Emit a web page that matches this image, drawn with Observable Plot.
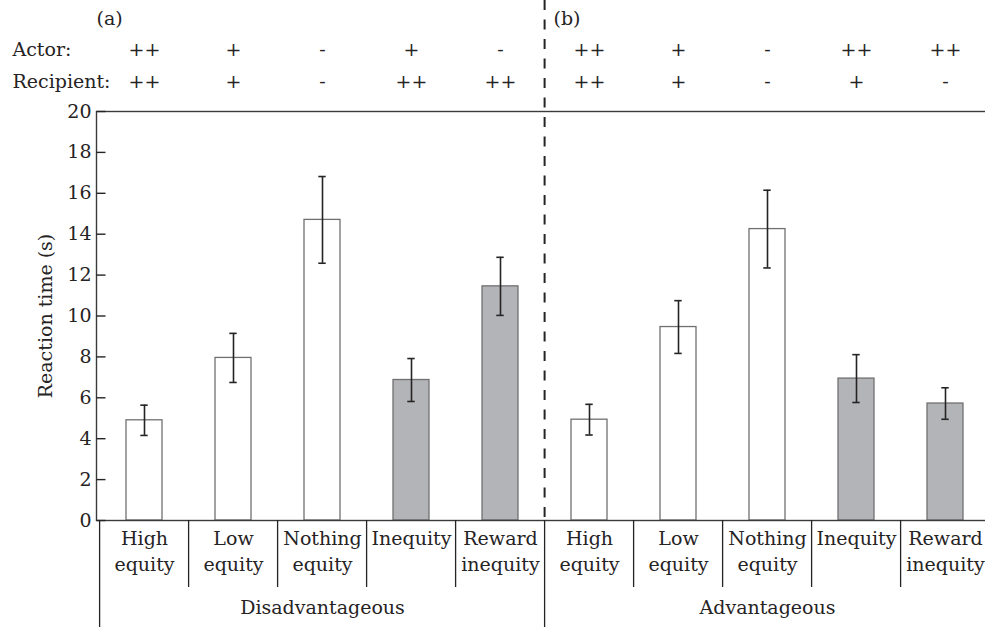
<!DOCTYPE html>
<html>
<head>
<meta charset="utf-8">
<script src="https://cdn.jsdelivr.net/npm/d3@7"></script>
<script src="https://cdn.jsdelivr.net/npm/@observablehq/plot@0.6"></script>
<style>
  html, body { margin: 0; padding: 0; background: #fff; overflow: hidden; }
  #wrap { width: 985px; height: 627px; overflow: hidden; }
  #wrap svg { max-width: none !important; display: block; }
</style>
</head>
<body>
<div id="wrap"></div>
<script>
// ---- data ----
const groups = ["Disadvantageous", "Advantageous"];
const panelLabels = ["(a)", "(b)"];
const conditions = ["High\nequity", "Low\nequity", "Nothing\nequity", "Inequity", "Reward\ninequity"];
const conditionKind = ["equity", "equity", "equity", "inequity", "inequity"];
const disadvMeans = [4.9, 7.95, 14.7, 6.87, 11.45];
const disadvErrors = [0.74, 1.2, 2.12, 1.05, 1.42];
const advMeans = [4.93, 9.46, 14.25, 6.94, 5.72];
const advErrors = [0.75, 1.29, 1.9, 1.17, 0.77];
const disadvActor = ["++", "+", "-", "+", "-"];
const disadvRecipient = ["++", "+", "-", "++", "++"];
const advActor = ["++", "+", "-", "++", "++"];
const advRecipient = ["++", "+", "-", "+", "-"];
const rowLabels = ["Actor:", "Recipient:"];
const yTicks = [0, 2, 4, 6, 8, 10, 12, 14, 16, 18, 20];
const yLabel = "Reaction time (s)";

// ---- build table ----
const series = [
  {means: disadvMeans, errors: disadvErrors, actor: disadvActor, recipient: disadvRecipient},
  {means: advMeans, errors: advErrors, actor: advActor, recipient: advRecipient}
];
const rows = [];
groups.forEach((g, gi) => {
  conditions.forEach((c, ci) => {
    const s = series[gi];
    rows.push({
      key: g + "|" + ci, group: g, gi, ci, label: c, kind: conditionKind[ci],
      mean: s.means[ci], lo: s.means[ci] - s.errors[ci], hi: s.means[ci] + s.errors[ci],
      actor: s.actor[ci], recipient: s.recipient[ci]
    });
  });
});

// ---- layout (style) ----
const W = 994, H = 627, ML = 96, MT = 111, MB = 107;
const step = (W - ML) / rows.length;
const frameH = H - MT - MB;
const ink = "#262324";
const font = "DejaVu Serif";
const fs = 19;

const tickSymbol = { draw(ctx) { ctx.moveTo(0, 0); ctx.lineTo(9, 0); } };

const chart = Plot.plot({
  width: W, height: H,
  marginLeft: ML, marginRight: 0, marginTop: MT, marginBottom: MB,
  style: {fontFamily: font, fontSize: fs + "px", color: ink, background: "#fff", overflow: "visible"},
  x: {domain: rows.map(d => d.key), paddingInner: 0.591, paddingOuter: 0.2955, axis: null},
  y: {domain: [0, 20], ticks: yTicks, tickSize: 0, tickPadding: 5, label: null, tickFormat: d => String(d)},
  color: {domain: ["equity", "inequity"], range: ["#ffffff", "#b3b4b7"]},
  marks: [
    Plot.barY(rows, {x: "key", y: "mean", fill: "kind", stroke: "#707070", strokeWidth: 1.3}),
    Plot.ruleX(rows, {x: "key", y1: "lo", y2: "hi", stroke: ink, strokeWidth: 1.6}),
    Plot.tickY(rows, {x: "key", y: "lo", stroke: ink, strokeWidth: 1.6, insetLeft: 14.3, insetRight: 14.3}),
    Plot.tickY(rows, {x: "key", y: "hi", stroke: ink, strokeWidth: 1.6, insetLeft: 14.3, insetRight: 14.3}),
    Plot.frame({stroke: "#3a3a3a", strokeWidth: 1.4}),
    Plot.dot(yTicks, {y: d => d, frameAnchor: "left", symbol: tickSymbol, stroke: ink, strokeWidth: 1.4, fill: "none"}),
    // category dividers below axis
    Plot.ruleX(rows.filter(d => d.ci > 0), {x: "key", dx: -step / 2, stroke: ink, strokeWidth: 1.3, insetTop: frameH, insetBottom: -67}),
    // group boundaries below axis
    Plot.ruleX(rows.filter(d => d.ci === 0), {x: "key", dx: -step / 2, stroke: ink, strokeWidth: 1.3, insetTop: frameH, insetBottom: -MB}),
    // dashed separator between panels
    Plot.ruleX(rows.filter(d => d.ci === 0 && d.gi === 1), {x: "key", dx: -step / 2, stroke: ink, strokeWidth: 2, strokeDasharray: "10,9.5", insetTop: -MT, insetBottom: 0}),
    // category labels
    Plot.text(rows, {x: "key", text: "label", frameAnchor: "bottom", lineAnchor: "top", dy: 6, lineHeight: 1.36, fill: ink}),
    // group labels
    Plot.text(rows.filter(d => d.ci === 2), {x: "key", text: "group", frameAnchor: "bottom", dy: 93, fill: ink}),
    // actor / recipient rows
    Plot.text(rows, {x: "key", text: "actor", frameAnchor: "top", dy: -69, fill: ink}),
    Plot.text(rows, {x: "key", text: "recipient", frameAnchor: "top", dy: -37, fill: ink}),
    Plot.text([rowLabels[0]], {text: d => d, frameAnchor: "top-left", textAnchor: "start", dx: -84, dy: -69, fill: ink}),
    Plot.text([rowLabels[1]], {text: d => d, frameAnchor: "top-left", textAnchor: "start", dx: -84, dy: -37, fill: ink}),
    // panel labels
    Plot.text(rows.filter(d => d.ci === 0 && d.gi === 0), {x: "key", text: () => panelLabels[0], frameAnchor: "top", textAnchor: "start", dx: -48, dy: -100, fill: ink}),
    Plot.text(rows.filter(d => d.ci === 0 && d.gi === 1), {x: "key", text: () => panelLabels[1], frameAnchor: "top", textAnchor: "start", dx: -36, dy: -100, fill: ink}),
    // y label
    Plot.text([yLabel], {text: d => d, frameAnchor: "left", textAnchor: "middle", rotate: -90, dx: -51, fill: ink})
  ]
});
document.getElementById("wrap").appendChild(chart);
</script>
</body>
</html>
